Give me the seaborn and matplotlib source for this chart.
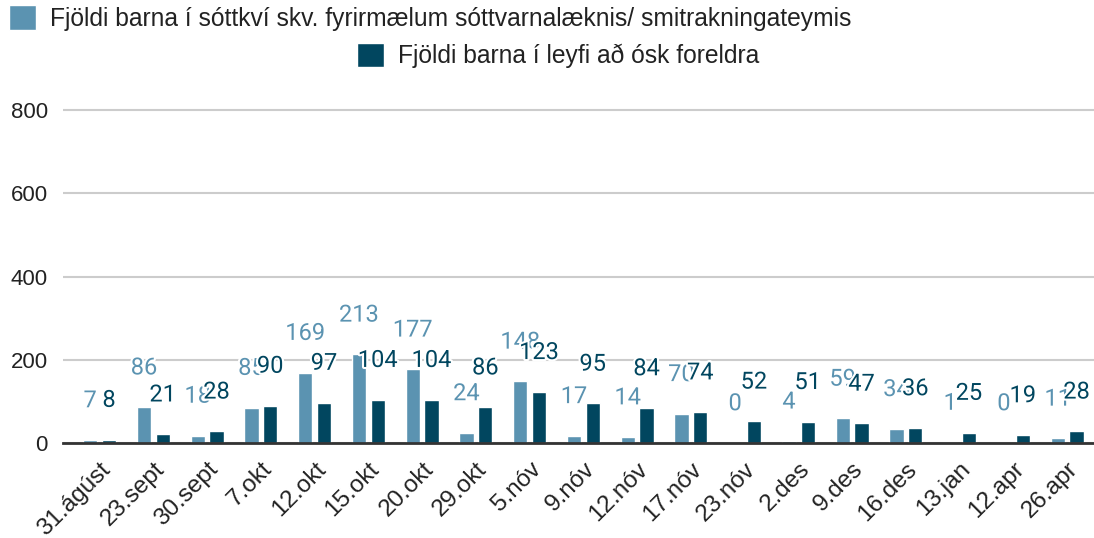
import numpy as np
import pandas as pd
import seaborn as sns
from matplotlib import pyplot as plt
import matplotlib.patheffects as pe

dates = ['31.ágúst', '23.sept', '30.sept', '7.okt', '12.okt', '15.okt', '20.okt',
         '29.okt', '5.nóv', '9.nóv', '12.nóv', '17.nóv', '23.nóv', '2.des',
         '9.des', '16.des', '13.jan', '12.apr', '26.apr']
quarantine = [7, 86, 18, 85, 169, 213, 177, 24, 148, 17, 14, 70, 0, 4, 59, 34, 1, 0, 11]
parents_leave = [8, 21, 28, 90, 97, 104, 104, 86, 123, 95, 84, 74, 52, 51, 47, 36, 25, 19, 28]

s1 = 'Fjöldi barna í sóttkví skv. fyrirmælum sóttvarnalæknis/ smitrakningateymis'
s2 = 'Fjöldi barna í leyfi að ósk foreldra'
light = '#5b93b1'
dark = '#01465f'

df = pd.DataFrame({'dags': dates * 2,
                   'fjoldi': quarantine + parents_leave,
                   'hopur': [s1] * len(dates) + [s2] * len(dates)})

sns.set_style('white')
plt.rcParams['font.family'] = ['Liberation Sans', 'DejaVu Sans']

fig = plt.figure(figsize=(10.94, 5.38), dpi=100)
ax = fig.add_axes([0.0576, 0.1766, 0.9424, 0.6224])

sns.barplot(data=df, x='dags', y='fjoldi', hue='hopur', hue_order=[s1, s2],
            palette=[light, dark], width=0.7, gap=0.24, saturation=1, ax=ax)

# data labels, second series drawn on top with a white halo
for cont, col in zip(ax.containers, [light, dark]):
    txts = ax.bar_label(cont, padding=20, fontsize=17, color=col, family='Roboto')
    for t in txts:
        t.set_path_effects([pe.withStroke(linewidth=3, foreground='white')])

ax.set_ylim(0, 805)
ax.set_xlim(-0.68, 18.5)
ax.set_yticks([0, 200, 400, 600, 800])
ax.yaxis.grid(True, color='#cccccc', linewidth=1.5)
ax.set_axisbelow(True)
for s in ['top', 'right', 'left']:
    ax.spines[s].set_visible(False)
ax.spines['bottom'].set_color('#333333')
ax.spines['bottom'].set_linewidth(2)
ax.set_xlabel('')
ax.set_ylabel('')
ax.tick_params(axis='y', length=0, pad=11, labelsize=16, labelcolor='#222222')
ax.tick_params(axis='x', length=0, pad=11, labelsize=17.5, labelcolor='#222222')
plt.setp(ax.get_xticklabels(), rotation=45, ha='right', va='top', rotation_mode='anchor')

handles, labels = ax.get_legend_handles_labels()
ax.get_legend().remove()
leg_kw = dict(frameon=False, fontsize=17.7, handlelength=1.1, handleheight=1.15,
              handletextpad=0.55, borderpad=0, borderaxespad=0, labelcolor='#222222')
fig.legend([handles[0]], [labels[0]], loc='upper left', bbox_to_anchor=(0.0085, 0.99), **leg_kw)
fig.legend([handles[1]], [labels[1]], loc='upper left', bbox_to_anchor=(0.3263, 0.921), **leg_kw)

plt.savefig('out.png', dpi=100)
